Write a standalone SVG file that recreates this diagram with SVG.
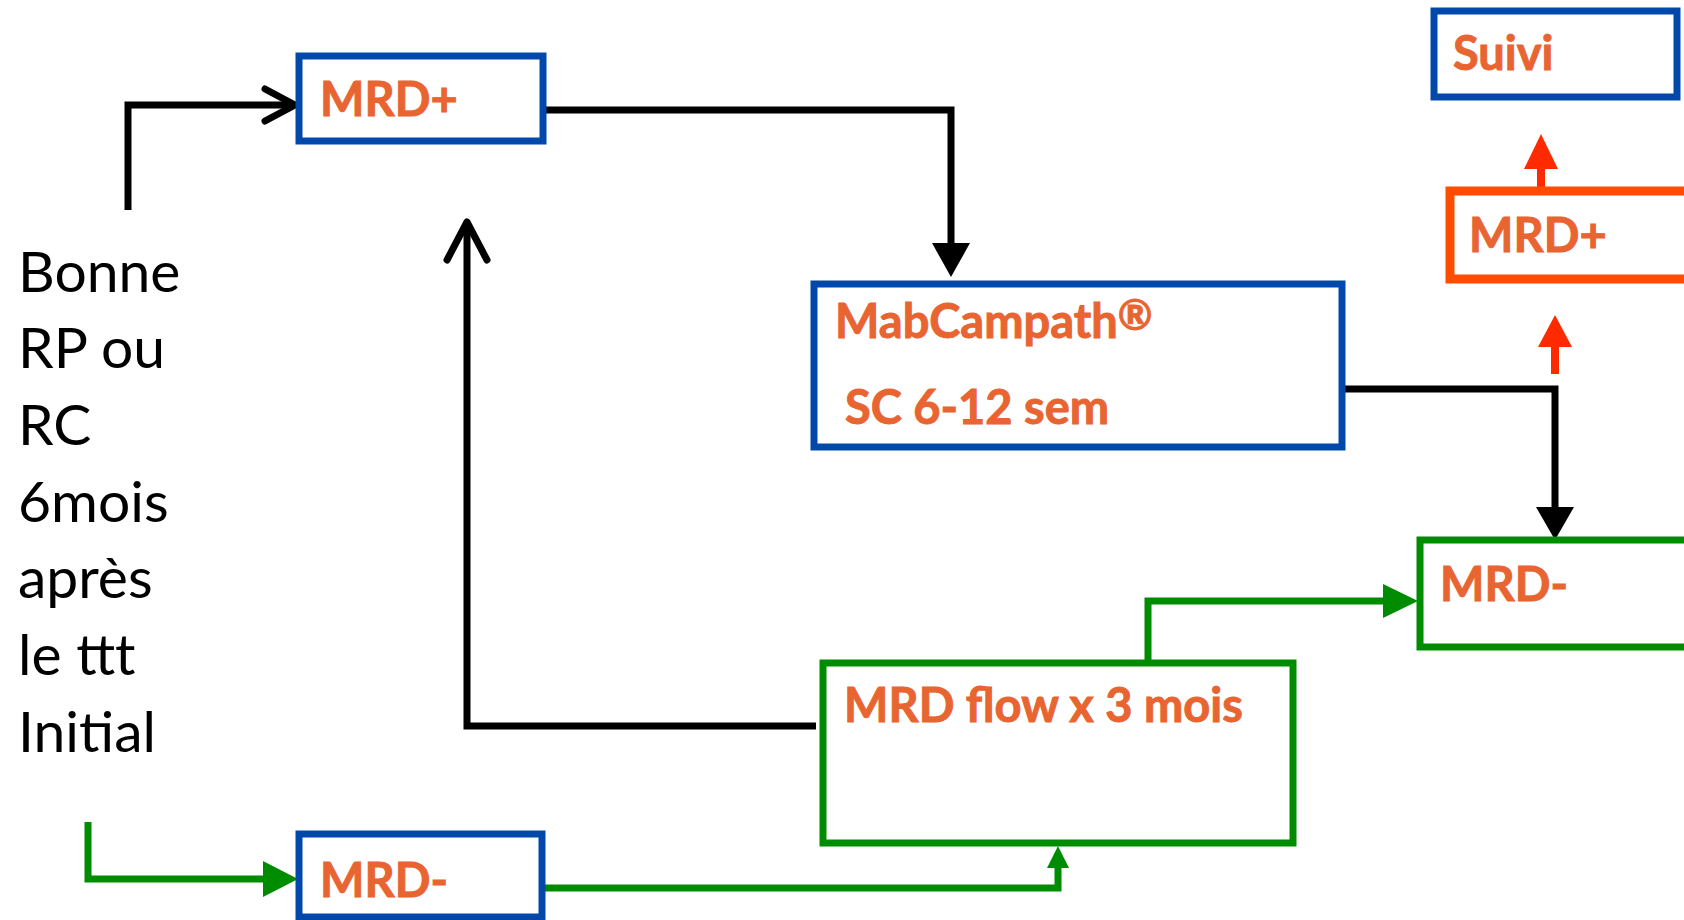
<svg xmlns="http://www.w3.org/2000/svg" width="1684" height="920" viewBox="0 0 1684 920">
<style>
.box{fill:#fff;stroke-width:7}
.blue{stroke:#0049AA}
.green{stroke:#008C00}
.orange{stroke:#FF4D00;stroke-width:9}
.lbl{font-family:Lato,"Open Sans",sans-serif;font-weight:bold;font-size:47px;fill:#E86431;stroke:#E86431;stroke-width:0.9}
.side{font-family:Lato,"Open Sans",sans-serif;font-size:57px;fill:#000}
.ln{fill:none;stroke-width:7}
.k{stroke:#000}
.g{stroke:#008C00}
.r{stroke:#FF2A00;stroke-width:8}
</style>
<rect width="1684" height="920" fill="#fff"/>
<g id="text-left">
<text class="side" x="18" y="292">Bonne</text>
<text class="side" x="18" y="368">RP ou</text>
<text class="side" x="18" y="445">RC</text>
<text class="side" x="18" y="522">6mois</text>
<text class="side" x="18" y="598">après</text>
<text class="side" x="18" y="675">le ttt</text>
<text class="side" x="18" y="752">Initial</text>
</g>
<g id="connectors">
<path class="ln k" d="M128,210 V105 H293"/>
<path class="ln k" d="M265,89 L295,105 L265,121" stroke-linecap="round" stroke-linejoin="round"/>
<path class="ln k" d="M543,110 H951 V245"/>
<polygon points="932,243 970,243 951,277" fill="#000"/>
<path class="ln k" d="M1342,389 H1555 V510"/>
<polygon points="1536,507 1574,507 1555,540" fill="#000"/>
<path class="ln k" d="M816,726 H467 V224"/>
<path class="ln k" d="M447,260 L467,222 L487,260" stroke-linecap="round" stroke-linejoin="round"/>
<path class="ln g" d="M88,822 V879 H265"/>
<polygon points="263,861 263,897 298,879" fill="#008C00"/>
<path class="ln g" d="M542,888 H1058 V866"/>
<polygon points="1047,868 1069,868 1058,846" fill="#008C00"/>
<path class="ln g" d="M1148,660 V601 H1385"/>
<polygon points="1383,584 1383,618 1418,601" fill="#008C00"/>
<path class="ln r" d="M1541,191 V166"/>
<polygon points="1524,169 1558,169 1541,134" fill="#FF2A00"/>
<path class="ln r" d="M1555,374 V344"/>
<polygon points="1538,347 1572,347 1555,315" fill="#FF2A00"/>
</g>
<g id="mrd-plus-top">
<rect class="box blue" x="299" y="56" width="244" height="85"/>
<text class="lbl" x="320" y="116">MRD+</text>
</g>
<g id="mabcampath">
<rect class="box blue" x="814" y="284" width="528" height="163"/>
<text class="lbl" x="835" y="338">MabCampath<tspan font-size="42" dy="-8">®</tspan></text>
<text class="lbl" x="845" y="424">SC 6-12 sem</text>
</g>
<g id="suivi">
<rect class="box blue" x="1434" y="11" width="243" height="86"/>
<text class="lbl" x="1453" y="70">Suivi</text>
</g>
<g id="mrd-plus-right">
<rect class="box orange" x="1450" y="191" width="250" height="88"/>
<text class="lbl" x="1469" y="252">MRD+</text>
</g>
<g id="mrd-minus-right">
<rect class="box green" x="1420" y="540" width="280" height="107"/>
<text class="lbl" x="1440" y="601">MRD-</text>
</g>
<g id="mrd-flow">
<rect class="box green" x="823" y="663" width="470" height="180"/>
<text class="lbl" x="844" y="722">MRD flow x 3 mois</text>
</g>
<g id="mrd-minus-bottom">
<rect class="box blue" x="299" y="834" width="243" height="83"/>
<text class="lbl" x="320" y="897">MRD-</text>
</g>
</svg>
